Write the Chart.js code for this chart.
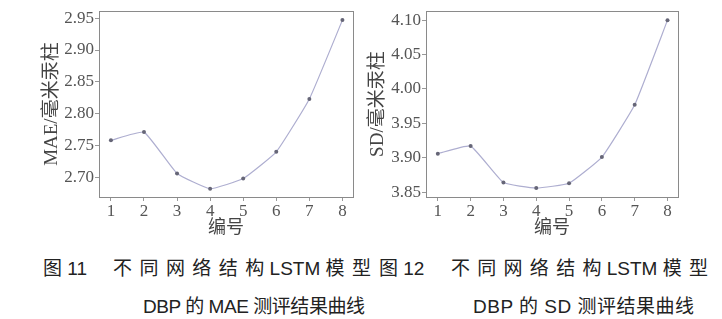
<!DOCTYPE html>
<html>
<head>
<meta charset="utf-8">
<script src="https://cdn.jsdelivr.net/npm/chart.js@4"></script>
<style>
  body { margin: 0; background: #fff; width: 722px; height: 319px; position: relative; overflow: hidden; }
  .box { position: absolute; top: 0; width: 361px; height: 245px; }
  .cap { position: absolute; white-space: nowrap; color: #222; font-size: 19px; line-height: 19px;
         font-family: "Liberation Sans", "Noto Sans CJK SC", sans-serif; }
</style>
</head>
<body>
<div class="box" style="left:0"><canvas id="maeChart" width="361" height="245"></canvas></div>
<div class="box" style="left:361px"><canvas id="sdChart" width="361" height="245"></canvas></div>

<div class="cap" style="left:43px;top:259px">图 11</div>
<div class="cap" style="left:113px;top:259px" data-w="258"><span class="sp">不同网络结构</span> LSTM <span class="sp">模型</span></div>
<div class="cap" style="left:379px;top:259px">图 12</div>
<div class="cap" style="left:451px;top:259px" data-w="257"><span class="sp">不同网络结构</span> LSTM <span class="sp">模型</span></div>
<div class="cap" style="left:143px;top:297px" data-w="222"><span class="sp">DBP 的 MAE 测评结果曲线</span></div>
<div class="cap" style="left:473px;top:297px" data-w="221"><span class="sp">DBP 的 SD 测评结果曲线</span></div>

<script>
// 数据
const bianhao = [1, 2, 3, 4, 5, 6, 7, 8];
const maeValues = [2.758, 2.771, 2.706, 2.682, 2.698, 2.740, 2.823, 2.947];
const sdValues = [3.906, 3.917, 3.864, 3.856, 3.863, 3.901, 3.977, 4.100];
const maeTicks = [2.70, 2.75, 2.80, 2.85, 2.90, 2.95];
const sdTicks = [3.85, 3.90, 3.95, 4.00, 4.05, 4.10];

// 绘图区外框
const frame = {
  id: 'frame',
  afterDraw(chart) {
    const a = chart.chartArea, ctx = chart.ctx;
    ctx.save();
    ctx.strokeStyle = '#8a8a8a';
    ctx.lineWidth = 1;
    ctx.strokeRect(Math.round(a.left) + 0.5, Math.round(a.top) + 0.5,
                   Math.round(a.right - a.left), Math.round(a.bottom - a.top));
    ctx.restore();
  }
};

function makeChart(id, values, ticks, yMin, yMax, yTitle, yWidth, pad) {
  const tickFont = { family: '"Liberation Serif", serif', size: 17 };
  return new Chart(document.getElementById(id), {
    type: 'line',
    data: {
      datasets: [{
        data: bianhao.map((x, i) => ({ x: x, y: values[i] })),
        borderColor: '#aeaed0',
        borderWidth: 1.2,
        pointRadius: 2,
        pointBackgroundColor: '#666677',
        pointBorderWidth: 0,
        tension: 0.12
      }]
    },
    options: {
      responsive: false,
      animation: false,
      layout: { padding: pad },
      plugins: { legend: { display: false }, tooltip: { enabled: false } },
      scales: {
        x: {
          type: 'linear', min: 0.64, max: 8.32,
          afterBuildTicks: s => { s.ticks = bianhao.map(v => ({ value: v })); },
          afterFit: s => { s.height = 40; },
          grid: { drawOnChartArea: false, tickLength: 4, color: '#999' },
          border: { display: false },
          ticks: { color: '#555', font: tickFont, padding: 0, maxRotation: 0 },
          title: { display: true, text: '编号', color: '#444', padding: 0,
                   font: { family: '"Noto Sans CJK SC", serif', size: 18 } }
        },
        y: {
          min: yMin, max: yMax,
          afterBuildTicks: s => { s.ticks = ticks.map(v => ({ value: v })); },
          afterFit: s => { s.width = yWidth; },
          grid: { drawOnChartArea: false, tickLength: 4, color: '#999' },
          border: { display: false },
          ticks: { color: '#555', font: tickFont, padding: 1, callback: v => v.toFixed(2) },
          title: { display: true, text: yTitle, color: '#444', padding: { top: 0, bottom: 3 },
                   font: { family: '"Liberation Serif", "Noto Sans CJK SC", serif', size: 19 } }
        }
      }
    },
    plugins: [frame]
  });
}

makeChart('maeChart', maeValues, maeTicks, 2.669, 2.961, 'MAE/毫米汞柱', 58, { left: 41, right: 8, top: 7, bottom: 8 });
makeChart('sdChart', sdValues, sdTicks, 3.843, 4.113, 'SD/毫米汞柱', 59, { left: 6, right: 44, top: 9, bottom: 8 });

// 标题文字按原图宽度调整字距（只调中文部分）
document.querySelectorAll('.cap[data-w]').forEach(el => {
  const target = +el.dataset.w;
  const spans = el.querySelectorAll('.sp');
  let n = 0;
  spans.forEach(s => { n += s.textContent.length; });
  const w = el.getBoundingClientRect().width;
  const ls = (target - w) / Math.max(1, n - spans.length);
  spans.forEach(s => { s.style.letterSpacing = ls + 'px'; s.style.marginRight = (-ls) + 'px'; });
});
</script>
</body>
</html>
